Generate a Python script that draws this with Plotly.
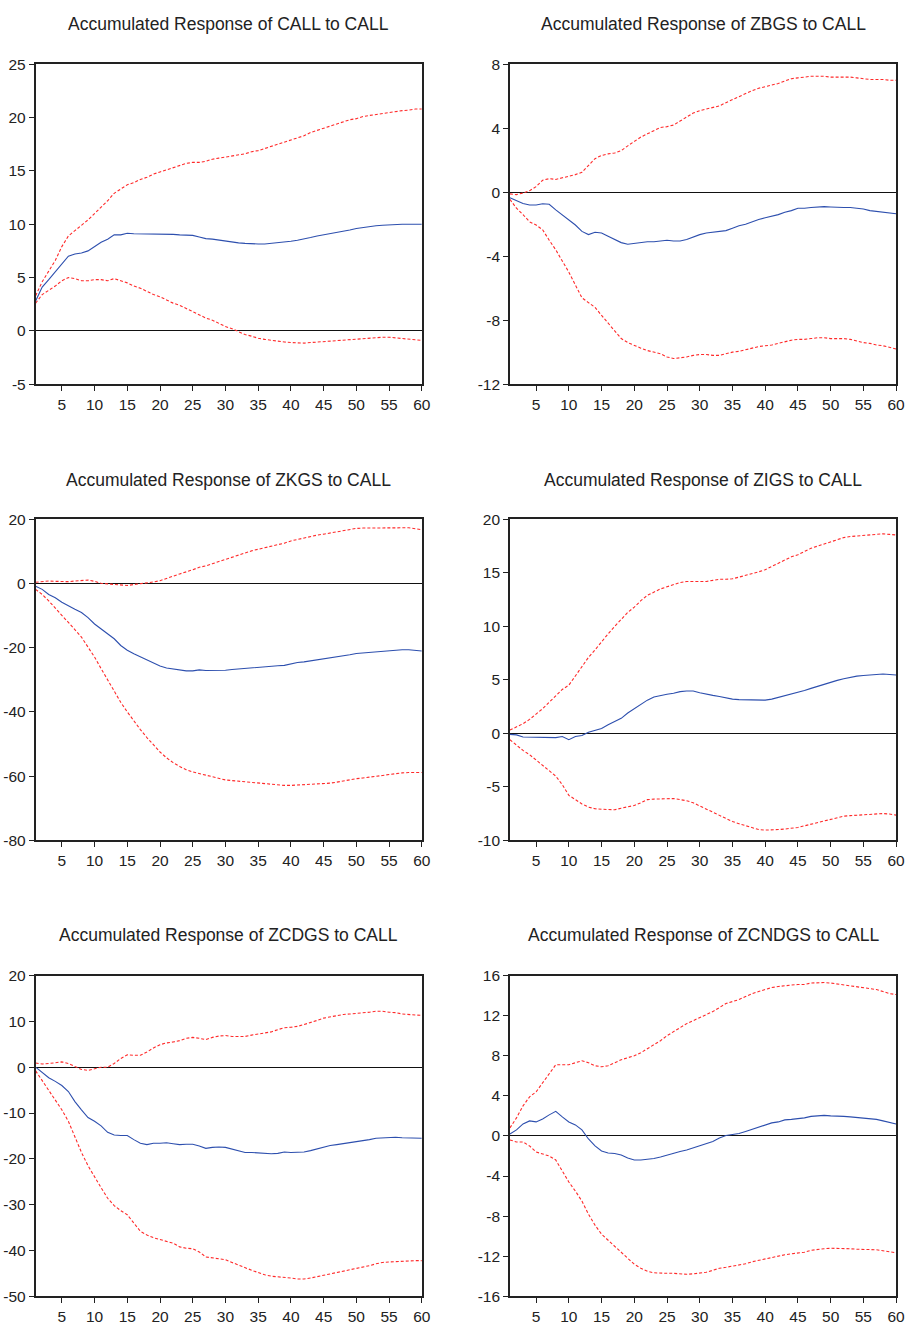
import plotly.graph_objects as go

periods = list(range(1, 61))

titles = [
    "Accumulated Response of CALL to CALL",
    "Accumulated Response of ZBGS to CALL",
    "Accumulated Response of ZKGS to CALL",
    "Accumulated Response of ZIGS to CALL",
    "Accumulated Response of ZCDGS to CALL",
    "Accumulated Response of ZCNDGS to CALL",
]

# ---- CALL to CALL ----
call_resp = [2.8, 4.1, 4.8, 5.5, 6.3, 7.0, 7.2, 7.3, 7.5, 7.9, 8.3, 8.6, 9.0, 9.0, 9.15,
             9.1, 9.1, 9.1, 9.05, 9.05, 9.05, 9.05, 9.0, 9.0, 8.95, 8.8, 8.65, 8.6, 8.5, 8.4,
             8.35, 8.25, 8.2, 8.15, 8.15, 8.15, 8.2, 8.25, 8.3, 8.4, 8.5, 8.6, 8.75, 8.9, 9.0,
             9.1, 9.2, 9.3, 9.45, 9.6, 9.7, 9.8, 9.85, 9.9, 9.95, 9.97, 10.0, 10.0, 10.0, 10.0]
call_hi = [3.3, 4.6, 5.6, 6.6, 7.9, 8.9, 9.4, 9.9, 10.4, 11.0, 11.6, 12.2, 12.9, 13.3, 13.7,
           13.9, 14.2, 14.4, 14.7, 14.9, 15.1, 15.3, 15.5, 15.7, 15.8, 15.8, 15.9, 16.1, 16.2, 16.3,
           16.4, 16.5, 16.6, 16.8, 16.9, 17.1, 17.3, 17.5, 17.7, 17.9, 18.1, 18.3, 18.6, 18.8, 19.0,
           19.2, 19.4, 19.6, 19.8, 19.9, 20.1, 20.2, 20.3, 20.4, 20.5, 20.6, 20.65, 20.7, 20.8, 20.8]
call_lo = [2.6, 3.4, 3.8, 4.2, 4.7, 5.0, 4.9, 4.7, 4.7, 4.8, 4.8, 4.7, 4.9, 4.7, 4.5,
           4.2, 4.0, 3.7, 3.4, 3.2, 2.9, 2.6, 2.4, 2.1, 1.8, 1.5, 1.2, 1.0, 0.7, 0.4,
           0.2, -0.1, -0.35, -0.5, -0.7, -0.8, -0.9, -1.0, -1.05, -1.1, -1.15, -1.15, -1.1, -1.05, -1.0,
           -0.95, -0.9, -0.85, -0.8, -0.75, -0.7, -0.65, -0.6, -0.6, -0.6, -0.65, -0.7, -0.75, -0.8, -0.9]

# ---- ZBGS to CALL ----
zbgs_resp = [-0.35, -0.55, -0.7, -0.8, -0.8, -0.72, -0.75, -1.1, -1.4, -1.7, -2.05, -2.45, -2.65, -2.5, -2.55,
             -2.75, -2.95, -3.15, -3.25, -3.2, -3.15, -3.1, -3.1, -3.05, -3.0, -3.05, -3.05, -2.95, -2.8, -2.65,
             -2.55, -2.5, -2.45, -2.4, -2.25, -2.1, -2.0, -1.85, -1.7, -1.6, -1.5, -1.4, -1.25, -1.15, -1.0,
             -1.0, -0.95, -0.92, -0.9, -0.92, -0.95, -0.95, -0.95, -1.0, -1.05, -1.15, -1.2, -1.22, -1.3, -1.35]
zbgs_hi = [-0.1, -0.15, -0.05, 0.1, 0.35, 0.75, 0.85, 0.8, 0.9, 1.0, 1.1, 1.25, 1.7, 2.1, 2.3,
           2.4, 2.45, 2.6, 2.9, 3.2, 3.45, 3.65, 3.85, 4.05, 4.1, 4.2, 4.45, 4.7, 4.95, 5.1,
           5.2, 5.3, 5.4, 5.6, 5.8, 5.95, 6.15, 6.35, 6.5, 6.6, 6.7, 6.8, 6.95, 7.1, 7.15,
           7.2, 7.25, 7.25, 7.25, 7.2, 7.2, 7.2, 7.2, 7.15, 7.1, 7.05, 7.05, 7.05, 7.0, 7.0]
zbgs_lo = [-0.45, -1.0, -1.4, -1.85, -2.05, -2.35, -3.0, -3.6, -4.3, -5.0, -5.8, -6.6, -6.9, -7.2, -7.7,
           -8.2, -8.7, -9.15, -9.4, -9.6, -9.75, -9.9, -10.0, -10.1, -10.3, -10.4, -10.35, -10.3, -10.2, -10.15,
           -10.15, -10.2, -10.2, -10.1, -10.0, -9.95, -9.85, -9.75, -9.65, -9.6, -9.55, -9.45, -9.35, -9.25, -9.2,
           -9.2, -9.15, -9.1, -9.1, -9.15, -9.15, -9.15, -9.2, -9.3, -9.4, -9.45, -9.55, -9.6, -9.7, -9.8]

# ---- ZKGS to CALL ----
zkgs_resp = [-0.8, -1.8, -3.4, -4.4, -5.8, -7.0, -8.0, -9.0, -10.6, -12.6, -14.2, -15.7, -17.2, -19.3, -20.8,
             -21.9, -22.9, -23.9, -24.9, -25.7, -26.3, -26.6, -26.9, -27.2, -27.2, -26.9, -27.1, -27.1, -27.1, -27.0,
             -26.8, -26.6, -26.4, -26.2, -26.1, -25.9, -25.7, -25.6, -25.5, -25.0, -24.6, -24.4, -24.1, -23.9, -23.6,
             -23.3, -23.0, -22.6, -22.2, -21.8, -21.6, -21.5, -21.3, -21.1, -20.9, -20.7, -20.6, -20.6, -20.8, -21.0]
zkgs_hi = [0.4, 0.7, 0.8, 0.7, 0.6, 0.6, 0.8, 1.0, 1.1, 0.7, 0.1, -0.1, -0.3, -0.5, -0.6,
           -0.3, -0.1, 0.3, 0.5, 0.9, 1.5, 2.3, 3.0, 3.6, 4.3, 5.1, 5.5, 6.2, 6.9, 7.6,
           8.3, 8.9, 9.6, 10.2, 10.7, 11.2, 11.6, 12.0, 12.6, 13.3, 13.8, 14.3, 14.7, 15.1, 15.4,
           15.8, 16.2, 16.6, 16.9, 17.2, 17.3, 17.3, 17.4, 17.5, 17.5, 17.5, 17.5, 17.4, 17.1, 16.8]
zkgs_lo = [-1.8, -3.4, -5.4, -7.5, -9.9, -12.1, -14.5, -16.7, -19.8, -22.9, -26.5, -30.1, -33.7, -37.0, -40.0,
           -42.8, -45.5, -48.0, -50.3, -52.5, -54.3, -55.8, -57.0, -58.0, -58.7, -59.2, -59.8, -60.4, -60.9, -61.2,
           -61.4, -61.6, -61.8, -62.0, -62.2, -62.4, -62.6, -62.8, -62.9, -62.9, -62.8, -62.7, -62.6, -62.6, -62.5,
           -62.2, -61.9, -61.5, -61.1, -60.8, -60.6, -60.4, -60.1, -59.8, -59.5, -59.2, -59.0, -58.9, -58.9, -58.9]

# ---- ZIGS to CALL ----
zigs_resp = [-0.1, -0.15, -0.35, -0.35, -0.35, -0.35, -0.4, -0.4, -0.3, -0.6, -0.3, -0.2, 0.1, 0.25, 0.45,
             0.8, 1.1, 1.4, 1.9, 2.3, 2.7, 3.1, 3.4, 3.55, 3.65, 3.75, 3.9, 3.95, 3.95, 3.8,
             3.65, 3.55, 3.45, 3.3, 3.2, 3.15, 3.15, 3.1, 3.1, 3.1, 3.2, 3.35, 3.5, 3.65, 3.8,
             4.0, 4.2, 4.4, 4.6, 4.8, 4.95, 5.1, 5.25, 5.35, 5.4, 5.45, 5.5, 5.55, 5.5, 5.45]
zigs_hi = [0.3, 0.6, 0.9, 1.3, 1.8, 2.3, 2.9, 3.5, 4.1, 4.5, 5.4, 6.3, 7.1, 7.8, 8.6,
           9.3, 10.0, 10.7, 11.3, 11.8, 12.4, 12.9, 13.2, 13.5, 13.7, 13.9, 14.1, 14.2, 14.2, 14.2,
           14.2, 14.3, 14.4, 14.4, 14.45, 14.6, 14.75, 14.9, 15.1, 15.3, 15.6, 15.9, 16.2, 16.5, 16.7,
           17.0, 17.3, 17.5, 17.7, 17.9, 18.1, 18.3, 18.4, 18.45, 18.5, 18.6, 18.65, 18.65, 18.6, 18.55]
zigs_lo = [-0.6, -1.1, -1.6, -2.0, -2.5, -3.0, -3.5, -4.0, -4.8, -5.8, -6.2, -6.6, -6.9, -7.05, -7.1,
           -7.15, -7.15, -7.0, -6.85, -6.75, -6.5, -6.2, -6.15, -6.15, -6.15, -6.1, -6.2, -6.3, -6.5, -6.8,
           -7.1, -7.4, -7.7, -8.0, -8.25, -8.45, -8.65, -8.85, -9.0, -9.05, -9.05, -9.0, -8.95, -8.9, -8.8,
           -8.65, -8.5, -8.35, -8.2, -8.05, -7.9, -7.75, -7.7, -7.65, -7.6, -7.55, -7.5, -7.5, -7.55, -7.65]

# ---- ZCDGS to CALL ----
zcdgs_resp = [0.0, -1.2, -2.3, -3.1, -4.0, -5.3, -7.5, -9.3, -11.0, -11.8, -12.8, -14.2, -14.8, -14.9, -14.9,
              -15.8, -16.6, -16.9, -16.6, -16.6, -16.5, -16.7, -16.9, -16.8, -16.8, -17.2, -17.7, -17.5, -17.4, -17.5,
              -17.9, -18.2, -18.6, -18.6, -18.7, -18.8, -18.9, -18.8, -18.5, -18.6, -18.6, -18.5, -18.2, -17.8, -17.4,
              -17.1, -16.9, -16.7, -16.5, -16.2, -16.0, -15.8, -15.5, -15.4, -15.3, -15.3, -15.4, -15.4, -15.5, -15.5]
zcdgs_hi = [0.9, 0.7, 0.8, 1.0, 1.15, 0.8, 0.1, -0.5, -0.7, -0.3, 0.0, 0.0, 0.8, 1.9, 2.7,
            2.6, 2.6, 3.3, 4.2, 4.9, 5.3, 5.5, 5.8, 6.3, 6.5, 6.3, 6.0, 6.5, 6.8, 6.9,
            6.7, 6.7, 6.7, 7.0, 7.2, 7.4, 7.7, 8.2, 8.6, 8.7, 8.9, 9.3, 9.7, 10.2, 10.7,
            11.0, 11.3, 11.5, 11.6, 11.7, 11.8, 12.0, 12.2, 12.2, 12.0, 11.9, 11.6, 11.5, 11.4, 11.3]
zcdgs_lo = [-0.8, -3.0, -5.2, -7.2, -9.3, -11.8, -15.2, -18.6, -21.5, -24.0, -26.3, -28.6, -30.2, -31.3, -32.2,
            -34.0, -35.8, -36.6, -37.2, -37.6, -38.0, -38.4, -39.2, -39.5, -39.6, -40.3, -41.4, -41.6, -41.7, -42.0,
            -42.6, -43.2, -43.8, -44.3, -44.8, -45.3, -45.6, -45.7, -45.8, -46.0, -46.2, -46.2, -46.0, -45.7, -45.4,
            -45.1, -44.9, -44.6, -44.3, -44.0, -43.7, -43.3, -42.9, -42.6, -42.5, -42.4, -42.3, -42.3, -42.2, -42.2]

# ---- ZCNDGS to CALL ----
zcndgs_resp = [0.2, 0.6, 1.2, 1.5, 1.4, 1.7, 2.1, 2.45, 1.9, 1.4, 1.1, 0.6, -0.3, -1.0, -1.5,
               -1.7, -1.75, -1.9, -2.2, -2.4, -2.4, -2.35, -2.25, -2.1, -1.9, -1.7, -1.55, -1.4, -1.2, -1.0,
               -0.8, -0.55, -0.2, 0.05, 0.15, 0.25, 0.45, 0.65, 0.9, 1.1, 1.3, 1.4, 1.6, 1.65, 1.7,
               1.8, 1.95, 2.0, 2.05, 2.0, 2.0, 1.95, 1.9, 1.85, 1.8, 1.7, 1.65, 1.5, 1.35, 1.2]
zcndgs_hi = [0.8, 1.8, 3.0, 3.9, 4.4, 5.3, 6.2, 7.1, 7.1, 7.1, 7.3, 7.5, 7.3, 7.0, 6.9,
             7.0, 7.3, 7.6, 7.8, 8.0, 8.3, 8.7, 9.1, 9.5, 10.0, 10.4, 10.8, 11.2, 11.5, 11.8,
             12.1, 12.4, 12.8, 13.2, 13.4, 13.6, 13.9, 14.2, 14.4, 14.6, 14.8, 14.9, 15.0, 15.05, 15.1,
             15.1, 15.25, 15.3, 15.3, 15.25, 15.15, 15.1, 15.0, 14.9, 14.8, 14.7, 14.6, 14.4, 14.2, 14.1]
zcndgs_lo = [-0.4, -0.6, -0.6, -1.0, -1.6, -1.8, -2.0, -2.4, -3.5, -4.6, -5.5, -6.5, -7.8, -8.9, -9.8,
             -10.4, -10.9, -11.5, -12.2, -12.8, -13.2, -13.5, -13.65, -13.7, -13.7, -13.7, -13.75, -13.8, -13.75, -13.7,
             -13.6, -13.4, -13.2, -13.1, -13.0, -12.9, -12.75, -12.55, -12.4, -12.3, -12.1, -12.0, -11.85, -11.75, -11.7,
             -11.6, -11.4, -11.3, -11.25, -11.2, -11.2, -11.2, -11.25, -11.3, -11.3, -11.3, -11.35, -11.45, -11.55, -11.65]

# axis ranges and tick labels
y_ranges = [(-5, 25), (-12, 8), (-80, 20), (-10, 20), (-50, 20), (-16, 16)]
y_tick_labels = [
    ["-5", "0", "5", "10", "15", "20", "25"],
    ["-12", "-8", "-4", "0", "4", "8"],
    ["-80", "-60", "-40", "-20", "0", "20"],
    ["-10", "-5", "0", "5", "10", "15", "20"],
    ["-50", "-40", "-30", "-20", "-10", "0", "10", "20"],
    ["-16", "-12", "-8", "-4", "0", "4", "8", "12", "16"],
]
x_tick_labels = ["5", "10", "15", "20", "25", "30", "35", "40", "45", "50", "55", "60"]

series = [
    (call_resp, call_lo, call_hi),
    (zbgs_resp, zbgs_lo, zbgs_hi),
    (zkgs_resp, zkgs_lo, zkgs_hi),
    (zigs_resp, zigs_lo, zigs_hi),
    (zcdgs_resp, zcdgs_lo, zcdgs_hi),
    (zcndgs_resp, zcndgs_lo, zcndgs_hi),
]

W, H = 915, 1333
col_px = [(36, 426), (515, 905)]
row_px = [(56, 380), (517, 842), (979, 1304)]
title_py = [15, 477, 938]

FONT = "Liberation Sans Narrow, Arial Narrow, Liberation Sans, Arial, sans-serif"
BLUE = "#2d4fae"
RED = "#ff2a2a"
INK = "#222222"

fig = go.Figure()
layout = {}
annotations = []
for i, (resp, lo, hi) in enumerate(series):
    r, c = divmod(i, 2)
    n = i + 1
    xa = "x" if n == 1 else f"x{n}"
    ya = "y" if n == 1 else f"y{n}"
    for vals, color, dash in ((hi, RED, "3px,2px"), (lo, RED, "3px,2px"), (resp, BLUE, "solid")):
        fig.add_trace(go.Scatter(x=periods, y=vals, mode="lines", xaxis=xa, yaxis=ya,
                                 line=dict(color=color, width=1.1, dash=dash),
                                 showlegend=False, hoverinfo="skip"))
    x0, x1 = col_px[c]
    y0, y1 = row_px[r]
    layout["xaxis" if n == 1 else f"xaxis{n}"] = dict(
        domain=[x0 / W, x1 / W], anchor=ya, range=[1, 60], tickmode="array",
        tickvals=[int(t) for t in x_tick_labels], ticktext=x_tick_labels,
        ticks="outside", ticklen=5, tickwidth=1, tickcolor=INK,
        showline=True, linecolor=INK, linewidth=1.6, mirror=True, showgrid=False,
        zeroline=False, tickfont=dict(family=FONT, size=15.5, color=INK))
    lo_r, hi_r = y_ranges[i]
    layout["yaxis" if n == 1 else f"yaxis{n}"] = dict(
        domain=[1 - y1 / H, 1 - y0 / H], anchor=xa, range=[lo_r, hi_r],
        tickmode="array", tickvals=[float(t) for t in y_tick_labels[i]], ticktext=y_tick_labels[i],
        ticks="outside", ticklen=5, tickwidth=1, tickcolor=INK,
        showline=True, linecolor=INK, linewidth=1.6, mirror=True, showgrid=False,
        zeroline=True, zerolinecolor="#111", zerolinewidth=1.3,
        tickfont=dict(family=FONT, size=15.5, color=INK))
    annotations.append(dict(text=titles[i], x=(x0 + x1) / 2 / W, y=1 - title_py[r] / H,
                            xref="paper", yref="paper", xanchor="center", yanchor="middle",
                            showarrow=False, font=dict(family=FONT, size=17.5, color=INK)))

fig.update_layout(width=W, height=H, margin=dict(l=0, r=0, t=0, b=0),
                  paper_bgcolor="white", plot_bgcolor="white",
                  annotations=annotations, **layout)
fig.write_html("out.html")
